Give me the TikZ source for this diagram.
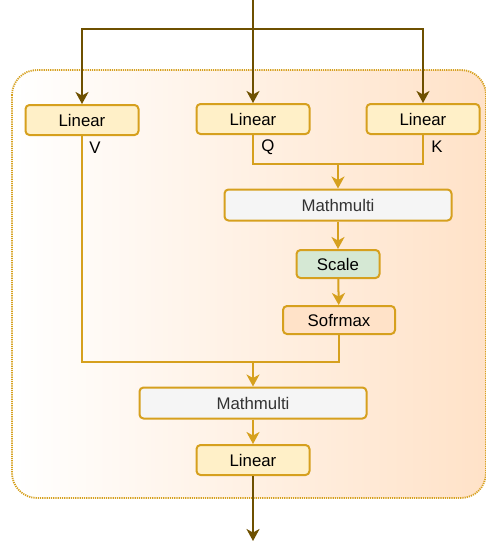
\documentclass[tikz,border=0pt]{standalone}
\usepackage{fontspec}
\setmainfont{Liberation Sans}
\usetikzlibrary{arrows.meta}
\definecolor{gold}{RGB}{214,160,30}
\definecolor{brownline}{RGB}{110,80,0}
\definecolor{peach}{RGB}{255,226,200}
\definecolor{lightyellow}{RGB}{255,240,200}
\definecolor{lightgray}{RGB}{245,245,245}
\definecolor{lightgreen}{RGB}{213,232,212}
\definecolor{darktext}{RGB}{51,51,51}
\begin{document}
\begin{tikzpicture}[x=1pt,y=-1pt,
  box/.style={draw=gold,line width=2pt,rounded corners=4pt,inner sep=0pt,
    font=\fontsize{16.8}{18}\selectfont},
  linbox/.style={box,fill=lightyellow,minimum width=113pt,minimum height=30pt},
  mulbox/.style={box,fill=lightgray,text=darktext,minimum width=227pt,minimum height=31pt},
  goldarrow/.style={draw=gold,line width=2pt,-{Stealth[length=12pt,width=13pt,inset=3.5pt]}},
  goldline/.style={draw=gold,line width=2pt},
  brownarrow/.style={draw=brownline,line width=2pt,-{Stealth[length=12pt,width=13pt,inset=3.5pt]}},
  brownline/.style={draw=brownline,line width=2pt},
  lbl/.style={font=\fontsize{16.8}{18}\selectfont,inner sep=0pt}
]
\useasboundingbox (0,0) rectangle (486,546);

% attention block background
\shade[left color=white,right color=peach,rounded corners=25pt]
  (12,70) rectangle (486,498);
\draw[gold,line width=1.8pt,dash pattern=on 1.2pt off 1pt,rounded corners=25pt]
  (12,70) rectangle (486,498);

% nodes
\node[linbox] (linV) at (82,120) {Linear};
\node[linbox] (linQ) at (253,119) {Linear};
\node[linbox] (linK) at (423,119) {Linear};
\node[mulbox] (mul1) at (338,205) {Mathmulti};
\node[box,fill=lightgreen,minimum width=83pt,minimum height=28pt] (scale) at (338,264) {Scale};
\node[box,fill=peach,minimum width=112pt,minimum height=28pt] (soft) at (339,320) {Sofrmax};
\node[mulbox] (mul2) at (253,403) {Mathmulti};
\node[linbox] (linO) at (253,460) {Linear};

\node[lbl] (labV) at (95,148) {V};
\node[lbl] (labQ) at (268,147) {Q};
\node[lbl] (labK) at (437,147) {K};

% input split
\coordinate (in) at (253,0);
\coordinate (split) at (253,29);
\coordinate (out) at (253,541);
\draw[brownline] (in) -- (split);
\draw[brownarrow] (split) -| (linV.north);
\draw[brownarrow] (split) -- (linQ.north);
\draw[brownarrow] (split) -| (linK.north);

% Q and K to first product
\coordinate (qk) at (338,164);
\draw[goldline] (linQ.south) |- (qk);
\draw[goldline] (linK.south) |- (qk);
\draw[goldarrow] (qk) -- (mul1.north);
\draw[goldarrow] (mul1) -- (scale);
\draw[goldarrow] (scale) -- (soft);

% V and softmax to second product
\coordinate (sv) at (253,362);
\draw[goldline] (soft.south) |- (sv);
\draw[goldline] (linV.south) |- (sv);
\draw[goldarrow] (sv) -- (mul2.north);
\draw[goldarrow] (mul2) -- (linO);

% output
\draw[brownarrow] (linO.south) -- (out);
\end{tikzpicture}
\end{document}
